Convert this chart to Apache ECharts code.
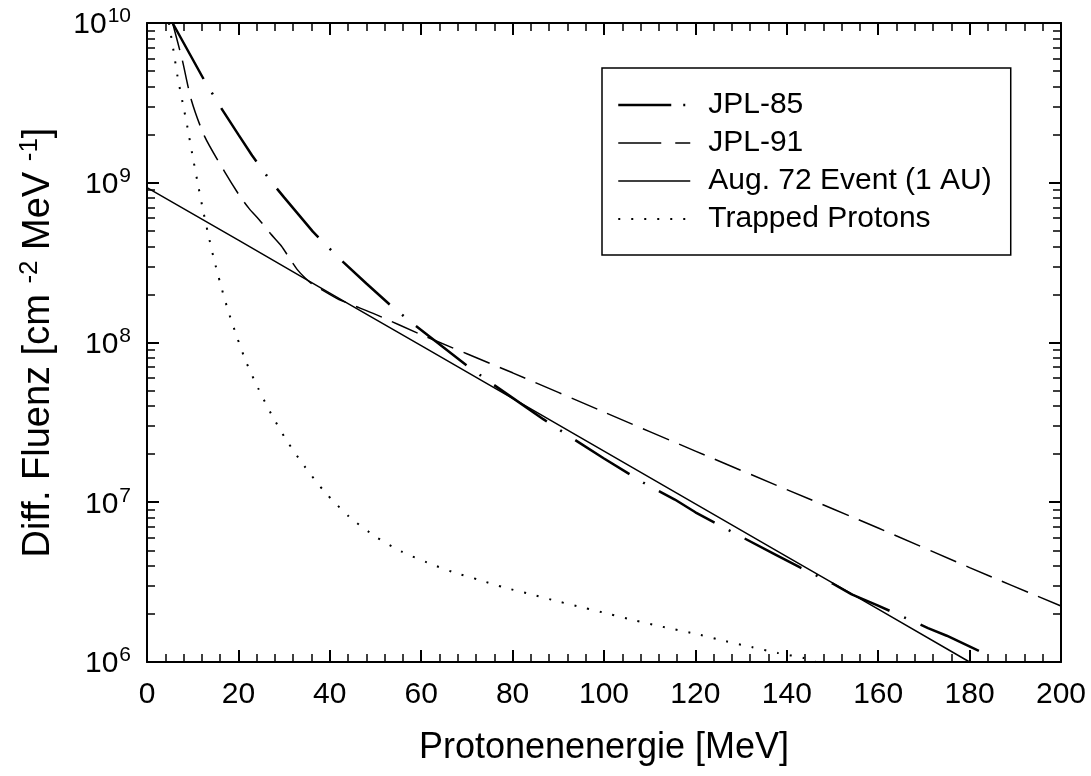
<!DOCTYPE html>
<html><head><meta charset="utf-8">
<script src="https://cdn.jsdelivr.net/npm/echarts@6/dist/echarts.min.js"></script>
<style>html,body{margin:0;padding:0;background:#fff}#c{width:1091px;height:776px}</style>
</head><body><div id="c"></div>
<script>
// ---- Data (energy MeV, differential fluence) ----
const seriesNames = ['JPL-85', 'JPL-91', 'Aug. 72 Event (1 AU)', 'Trapped Protons'];
const jpl85 = [[5.6,1.0e10],[12.4,4.45e9],[15.7,3.1e9],[20,2.0e9],[23,1.48e9],[27,1.03e9],[30,8.1e8],[36.3,4.94e8],[41.9,3.4e8],[48,2.34e8],[53.1,1.73e8],[58.8,1.27e8],[63.5,1.0e8],[69.9,7.2e7],[75.6,5.5e7],[80,4.5e7],[86.8,3.3e7],[92.3,2.6e7],[100,1.88e7],[109.3,1.29e7],[115.5,1.04e7],[120,8.65e6],[126.1,6.97e6],[137.4,4.72e6],[142.8,3.92e6],[150,3.1e6],[154.2,2.65e6],[159.6,2.28e6],[170.9,1.63e6],[175,1.46e6],[184.1,1.1e6]];
const jpl91 = [[5.6,1.0e10],[7.7,5.9e9],[9.7,3.3e9],[12.6,1.95e9],[17,1.17e9],[20.3,8.26e8],[22.4,6.86e8],[24.5,5.89e8],[27,4.81e8],[29.4,4.02e8],[31,3.43e8],[32.8,2.88e8],[34.5,2.55e8],[36,2.34e8],[38,2.16e8],[42,1.86e8],[50,1.5e8],[60,1.12e8],[80,6.46e7],[100,3.67e7],[120,2.09e7],[140,1.2e7],[160,6.9e6],[180,3.9e6],[200,2.24e6]];
const aug72 = [[0,9.33e8],[20,4.37e8],[40,2.04e8],[60,9.55e7],[80,4.47e7],[100,2.09e7],[120,9.77e6],[140,4.57e6],[160,2.14e6],[180,1.0e6]];
const trapped = [[4.8,1.0e10],[5.8,6.7e9],[6.7,4.6e9],[7.8,3.17e9],[8.9,2.19e9],[9.9,1.51e9],[11,1.03e9],[12.1,7.1e8],[13.3,4.9e8],[14.6,3.37e8],[16.1,2.31e8],[17.7,1.6e8],[19.6,1.1e8],[21.7,7.55e7],[24.3,5.19e7],[27.2,3.56e7],[30.5,2.45e7],[34.4,1.69e7],[38.9,1.16e7],[44.3,8.1e6],[50,6.1e6],[55.6,4.93e6],[61.3,4.2e6],[66.9,3.66e6],[72.8,3.26e6],[78.3,2.92e6],[84.1,2.65e6],[89.8,2.4e6],[95.4,2.19e6],[101.1,2.0e6],[106.7,1.82e6],[112,1.68e6],[121,1.48e6],[126.6,1.35e6],[132.3,1.24e6],[138,1.14e6],[143.7,1.06e6],[146.3,1.01e6]];
// ---- Axis ticks ----
const xMin = 0, xMax = 200, xStep = 20;
const yMin = 1e6, yMax = 1e10;
const yDecades = [6, 7, 8, 9];
const yMantissas = [2, 3, 4, 5, 6, 7, 8, 9];
const xTitle = 'Protonenenergie [MeV]';
const yTitle = 'Diff. Fluenz [cm {s|-2} MeV {s|-1}]';

const minorY = [];
yDecades.forEach(d => yMantissas.forEach(m => minorY.push(m * Math.pow(10, d))));

const FONT = '"Liberation Sans", Arial, sans-serif';
const BLACK = '#000';
const lineAx = { show: true, onZero: false, lineStyle: { color: BLACK, width: 2 } };

function xAx(pos, labels) {
  return {
    type: 'value', position: pos, min: xMin, max: xMax, interval: xStep,
    axisLine: lineAx,
    axisTick: { show: true, inside: true, length: 12, lineStyle: { color: BLACK, width: 2 } },
    minorTick: { show: true, splitNumber: 5, length: 8, lineStyle: { color: BLACK, width: 1.5 } },
    splitLine: { show: false }, minorSplitLine: { show: false },
    axisLabel: { show: labels, fontSize: 30, color: BLACK, fontFamily: FONT, margin: 18 },
    name: labels ? xTitle : '', nameLocation: 'middle', nameGap: 68,
    nameTextStyle: { fontSize: 36, color: BLACK, fontFamily: FONT }
  };
}
function yMajor(pos, labels) {
  return {
    type: 'log', logBase: 10, position: pos, min: yMin, max: yMax,
    axisLine: lineAx,
    axisTick: { show: true, inside: true, length: 12, lineStyle: { color: BLACK, width: 2 } },
    splitLine: { show: false },
    axisLabel: {
      show: labels, margin: 16,
      formatter: v => '{b|10}{e|' + Math.round(Math.log10(v)) + '}',
      rich: {
        b: { fontSize: 30, fontFamily: FONT, color: BLACK, lineHeight: 34, verticalAlign: 'bottom' },
        e: { fontSize: 21, fontFamily: FONT, color: BLACK, lineHeight: 34, verticalAlign: 'top', padding: [0, 0, 0, 1] }
      }
    },
    name: labels ? yTitle : '', nameLocation: 'middle', nameGap: 86, nameRotate: 90,
    nameTextStyle: {
      fontSize: 38, color: BLACK, fontFamily: FONT, lineHeight: 44,
      rich: { s: { fontSize: 26, fontFamily: FONT, color: BLACK, verticalAlign: 'top', lineHeight: 44 } }
    }
  };
}
function yMinor(pos) {
  return {
    type: 'log', logBase: 10, position: pos, min: yMin, max: yMax,
    axisLine: { show: false, onZero: false },
    axisTick: { show: true, inside: true, length: 8, customValues: minorY, lineStyle: { color: BLACK, width: 1.5 } },
    axisLabel: { show: false }, splitLine: { show: false }
  };
}

const styles = [
  { width: 2.5, type: [64, 16, 2, 16] },
  { width: 1.5, type: [28, 11] },
  { width: 1.5, type: 'solid' },
  { width: 2, type: [2, 11] }
];
const legendStyles = [
  { width: 2.5, type: [53, 12, 2, 20] },
  { width: 1.5, type: [43, 14] },
  { width: 1.5, type: 'solid' },
  { width: 2, type: [2, 11] }
];
const datas = [jpl85, jpl91, aug72, trapped];

const chart = echarts.init(document.getElementById('c'), null, { renderer: 'canvas' });
chart.setOption({
  animation: false,
  backgroundColor: '#fff',
  grid: { left: 147, top: 23, right: 30, bottom: 114, containLabel: false },
  xAxis: [xAx('bottom', true), xAx('top', false)],
  yAxis: [yMajor('left', true), yMinor('left'), yMajor('right', false), yMinor('right')],
  legend: {
    orient: 'vertical', left: 602, top: 68,
    padding: [22, 19, 21, 15], borderColor: BLACK, borderWidth: 1.5,
    itemWidth: 72, itemHeight: 14, itemGap: 8,
    itemStyle: { opacity: 0 },
    textStyle: { fontSize: 30, fontFamily: FONT, color: BLACK, lineHeight: 30, padding: [0, 0, 0, 13] },
    data: seriesNames.map((n, i) => ({
      name: n,
      itemStyle: { opacity: 0 },
      lineStyle: { color: BLACK, width: legendStyles[i].width, type: legendStyles[i].type, opacity: 1 }
    }))
  },
  series: seriesNames.map((n, i) => ({
    name: n, type: 'line', xAxisIndex: 0, yAxisIndex: 0,
    data: datas[i], showSymbol: false, symbol: 'none', silent: true,
    smooth: (i === 1 || i === 3) ? 0.25 : false,
    color: BLACK, clip: true,
    lineStyle: { color: BLACK, width: styles[i].width, type: styles[i].type }
  }))
});
</script></body></html>
